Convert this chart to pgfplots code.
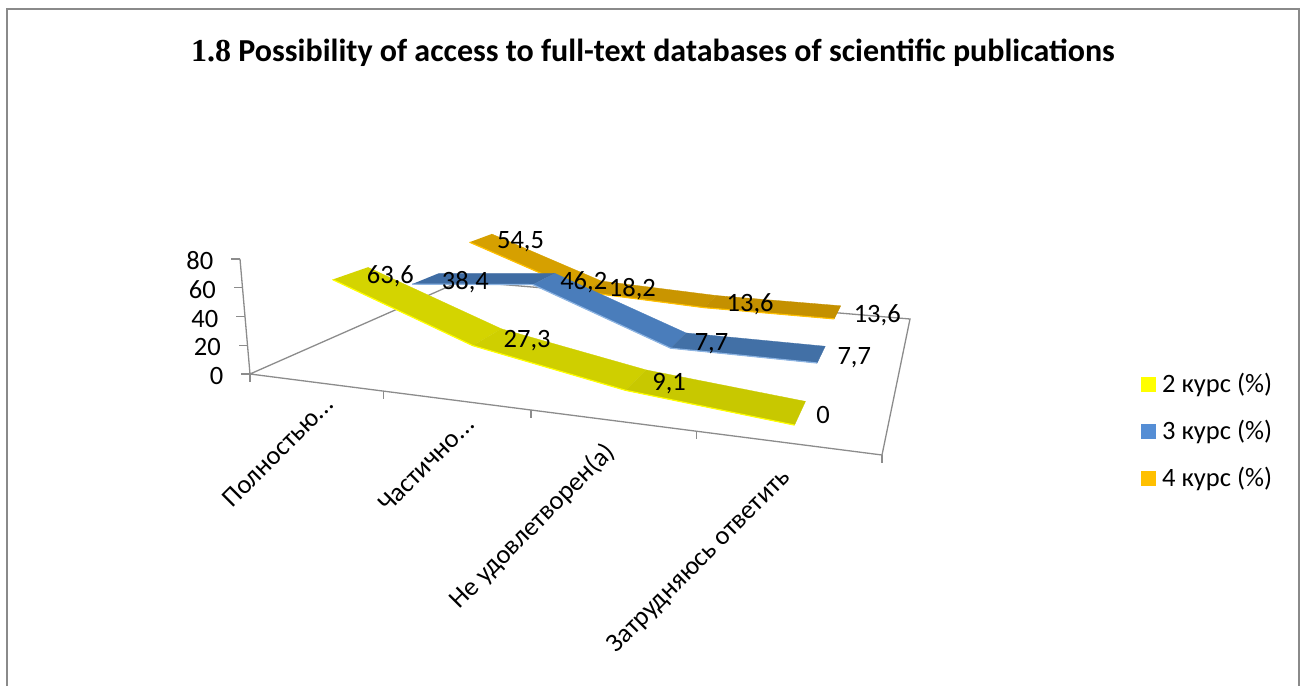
\documentclass[border=0pt]{standalone}
\usepackage{pgfplots}
\pgfplotsset{compat=1.18}
\usepackage{fontspec}
\setmainfont{Carlito}
\newfontfamily\serifbold{Liberation Serif}
\definecolor{axgray}{HTML}{8C8C8C}
\definecolor{framegray}{HTML}{8A8A8A}
\pgfdeclareplotmark{tickdown}{\pgfpathmoveto{\pgfpointorigin}\pgfpathlineto{\pgfqpoint{0pt}{-8pt}}\pgfusepathqstroke}
\pgfdeclareplotmark{tickleft}{\pgfpathmoveto{\pgfpointorigin}\pgfpathlineto{\pgfqpoint{-9pt}{0pt}}\pgfusepathqstroke}
% perspective projection of (category c, depth d, value v) to the picture
\def\U{((\thisrow{c}+0.5)/4)}
\def\W{(1-0.19883*\U+0.41997*\thisrow{d})}
\pgfplotsset{table/proj/.style={
  x expr={(456.63*\U+404.6*\thisrow{d}+250-10*\thisrow{v}/80)/\W},
  y expr={(-9.47*\U+25.01*\thisrow{d}+374-115*\thisrow{v}/80)/\W}}}
% one ribbon segment: colour, c1, v1, c2, v2, front depth, back depth, edge colour
\newcommand\seg[8]{%
  \addplot[fill=#1,draw=#1,line width=0.3pt,forget plot] table[proj,row sep=\\]{c d v\\ #2 #6 #3\\ #4 #6 #5\\ #4 #7 #5\\ #2 #7 #3\\};
  \addplot[draw=#8,line width=1.2pt,forget plot] table[proj,row sep=\\]{c d v\\ #2 #6 #3\\ #4 #6 #5\\};
}
\definecolor{oA}{HTML}{D6A000}\definecolor{oB}{HTML}{C99500}\definecolor{oC}{HTML}{C49000}\definecolor{oE}{HTML}{FFC000}
\definecolor{bA}{HTML}{3F6CA3}\definecolor{bB}{HTML}{4A7DBB}\definecolor{bC}{HTML}{4270A6}\definecolor{bE}{HTML}{8DB4E2}
\definecolor{yA}{HTML}{D4D400}\definecolor{yB}{HTML}{CFCF00}\definecolor{yC}{HTML}{C8C800}\definecolor{yE}{HTML}{FFFF00}
\definecolor{legB}{HTML}{558ED5}
\newcommand\lf{\fontsize{26.5}{26.5}\selectfont}
\begin{document}
\begin{tikzpicture}
\begin{axis}[
  hide axis, scale only axis, width=1305pt, height=686pt,
  xmin=0, xmax=1305, ymin=0, ymax=686, y dir=reverse, clip=false,
  legend cell align=left,
  legend style={draw=none, fill=none, at={(axis cs:1141,374)}, anchor=north west,
    font=\lf, row sep=27pt,
    inner sep=0pt, nodes={inner xsep=6pt, inner ysep=1pt, text height=17pt, text depth=1pt}},
  legend image code/.code={\fill[#1,draw=none] (0pt,-7.5pt) rectangle (15pt,7.5pt);},
]
\path (axis cs:0,0) rectangle (axis cs:1305,686);
% frame
\addplot[framegray,line width=2pt,forget plot] coordinates {(7,686) (7,9) (1299,9) (1299,686)};
% floor
\addplot[axgray,line width=1.3pt,forget plot] table[proj,row sep=\\]{c d v\\ -0.5 0 0\\ -0.5 1 0\\ 3.5 1 0\\ 3.5 0 0\\ -0.5 0 0\\};
% value axis
\addplot[axgray,line width=1.3pt,mark=tickleft,mark options={solid,draw=axgray,line width=1.3pt},forget plot,
  point meta=explicit symbolic,nodes near coords,
  every node near coord/.append style={anchor=east,xshift=-26pt,yshift=-2pt,text=black,inner sep=0pt,text height=17pt,text depth=0pt,font=\lf}]
  table[proj,meta=lab]{
c d v lab
-0.5 0 0 0
-0.5 0 20 20
-0.5 0 40 40
-0.5 0 60 60
-0.5 0 80 80
};
% category ticks
\addplot[only marks,mark=tickdown,mark options={solid,draw=axgray,line width=1.3pt},forget plot]
  table[proj]{
c d v
-0.5 0 0
0.5 0 0
1.5 0 0
2.5 0 0
3.5 0 0
};
% 4 курс
\seg{oA}{0}{54.5}{1}{18.2}{0.76}{0.905}{oE}
\seg{oB}{1}{18.2}{2}{13.6}{0.76}{0.905}{oE}
\seg{oC}{2}{13.6}{3}{13.6}{0.76}{0.905}{oE}
% 3 курс
\seg{bA}{0}{38.4}{1}{46.2}{0.43}{0.57}{bE}
\seg{bB}{1}{46.2}{2}{7.7}{0.43}{0.57}{bE}
\seg{bC}{2}{7.7}{3}{7.7}{0.43}{0.57}{bE}
% 2 курс
\seg{yA}{0}{63.6}{1}{27.3}{0.095}{0.238}{yE}
\seg{yB}{1}{27.3}{2}{9.1}{0.095}{0.238}{yE}
\seg{yC}{2}{9.1}{3}{0}{0.095}{0.238}{yE}
% data labels
\pgfplotsset{datalab/.style={draw=none,forget plot,point meta=explicit symbolic,nodes near coords,
  every node near coord/.append style={anchor=west,xshift=16pt,yshift=-2pt,text=black,inner sep=0pt,text height=17pt,text depth=0pt,font=\lf}}}
\addplot[datalab] table[proj,meta=lab]{
c d v lab
0 0.1665 63.6 63,6
1 0.1665 27.3 27,3
2 0.1665 9.1 9,1
3 0.1665 0 0
};
\addplot[datalab] table[proj,meta=lab]{
c d v lab
0 0.5 38.4 38,4
1 0.5 46.2 46,2
2 0.5 7.7 7,7
3 0.5 7.7 7,7
};
\addplot[datalab] table[proj,meta=lab]{
c d v lab
0 0.8325 54.5 54,5
1 0.8325 18.2 18,2
2 0.8325 13.6 13,6
3 0.8325 13.6 13,6
};
\addlegendimage{fill=yE}
\addlegendentry{2 курс (\%)}
\addlegendimage{fill=legB}
\addlegendentry{3 курс (\%)}
\addlegendimage{fill=oE}
\addlegendentry{4 курс (\%)}
% title and category names
\node[font=\fontsize{32}{32}\selectfont\bfseries,anchor=center] at (axis cs:653,53) {{\serifbold\bfseries 1.8} Possibility of access to full-text databases of scientific publications};
\node[font=\lf,rotate=45,anchor=east,inner sep=0pt] at (axis cs:329,400) {Полностью...};
\node[font=\lf,rotate=45,anchor=east,inner sep=0pt] at (axis cs:470,420) {Частично...};
\node[font=\lf,rotate=45,anchor=east,inner sep=0pt] at (axis cs:611,448) {Не удовлетворен(а)};
\node[font=\lf,rotate=45,anchor=east,inner sep=0pt] at (axis cs:787,474) {Затрудняюсь ответить};
\end{axis}
\end{tikzpicture}
\end{document}
